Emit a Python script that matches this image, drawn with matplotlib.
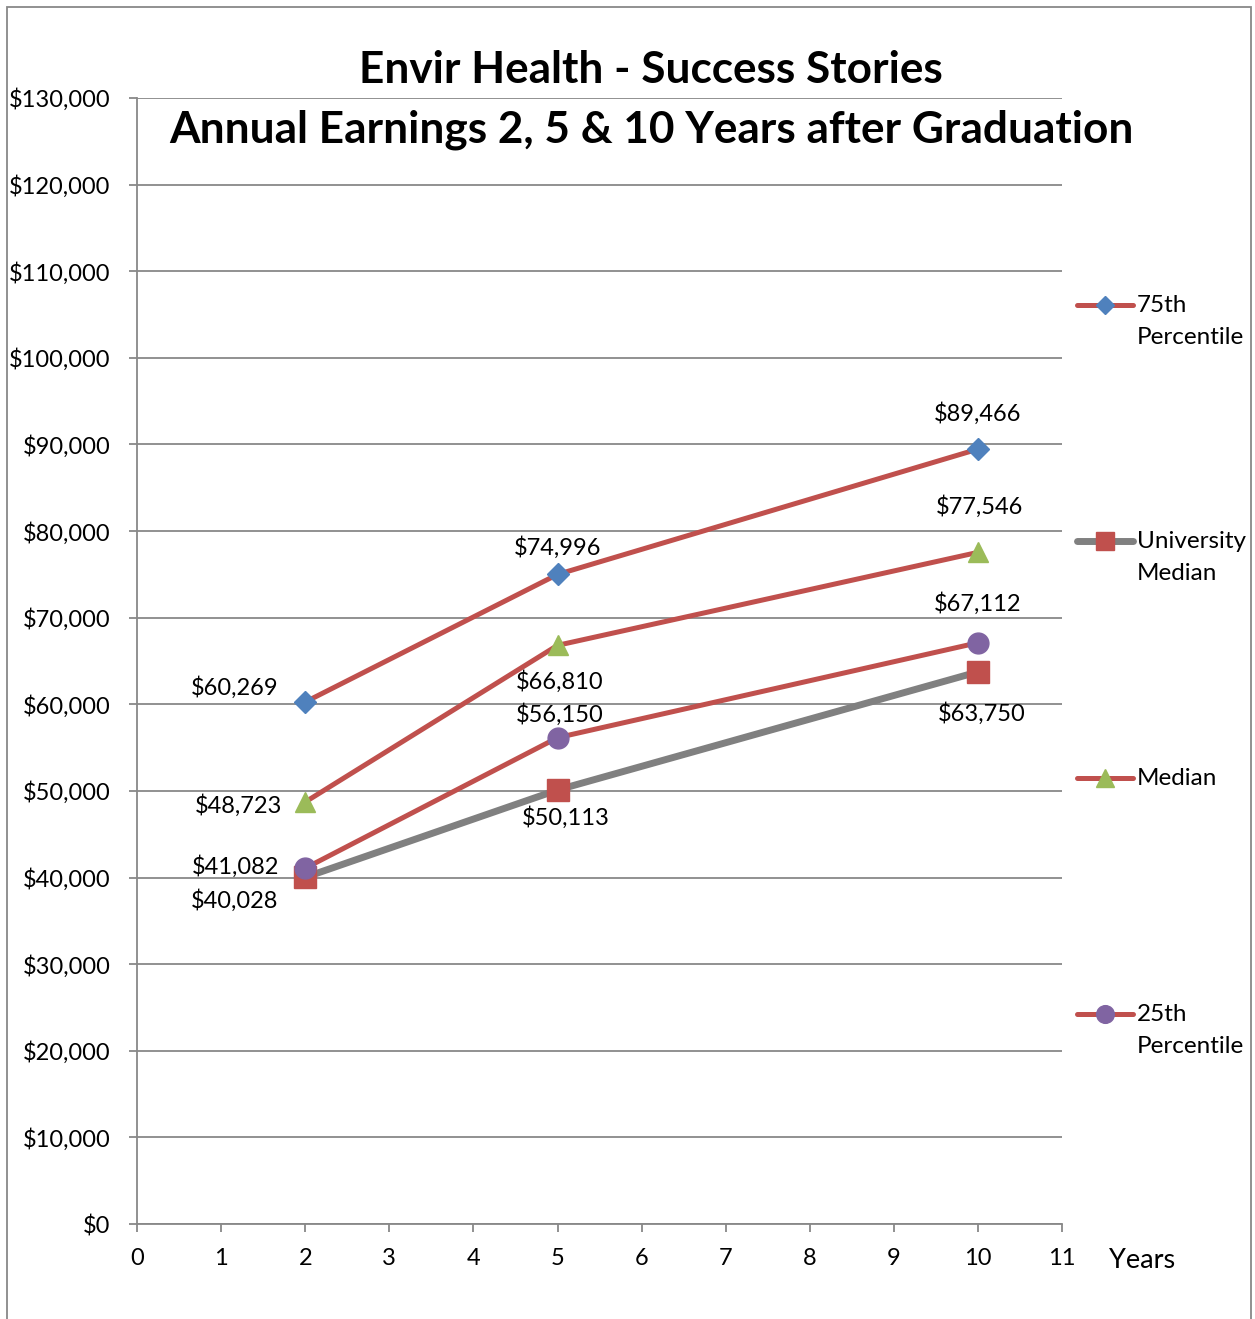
import matplotlib.pyplot as plt
from matplotlib.lines import Line2D
from matplotlib.patches import Rectangle

plt.rcParams['font.family'] = ['Lato', 'DejaVu Sans']

# data
years = [2, 5, 10]
p75 = [60269, 74996, 89466]
uni_median = [40028, 50113, 63750]
median = [48723, 66810, 77546]
p25 = [41082, 56150, 67112]

series_names = ["75th\nPercentile", "University\nMedian", "Median", "25th\nPercentile"]
series_values = [p75, uni_median, median, p25]
line_colors = ["#C0504D", "#808080", "#C0504D", "#C0504D"]
marker_colors = ["#4F81BD", "#C0504D", "#9BBB59", "#8064A2"]
markers = ["D", "s", "^", "o"]
marker_sizes = [11, 16, 15, 15]
line_widths = [3.6, 5.0, 3.6, 3.6]

# label offsets in pixels, one per point
label_offsets = [
    [(-71, 14), (0, 27), (0, 36)],
    [(-71, -23), (8, -28), (4, -42)],
    [(-67, -4), (2, -36), (2, 46)],
    [(-70, 2), (2, 23), (0, 39)],
]

fig = plt.figure(figsize=(12.55, 13.19), dpi=100)
ax = fig.add_axes([0.1092, 0.0720, 0.7371, 0.8537])

# draw university median first so red lines sit on top
order = [1, 0, 2, 3]
for i in order:
    ax.plot(years, series_values[i], color=line_colors[i], lw=line_widths[i],
            marker=markers[i], ms=marker_sizes[i], mfc=marker_colors[i],
            mec=marker_colors[i], zorder=3 + i, clip_on=False)
    for x, y, off in zip(years, series_values[i], label_offsets[i]):
        ax.annotate(f"${y:,}", (x, y), xytext=off, textcoords='offset pixels',
                    ha='center', va='center', fontsize=17, zorder=10)

ax.set_xlim(0, 11)
ax.set_ylim(0, 130000)
ax.set_xticks(range(0, 12))
ax.set_yticks(range(0, 130001, 10000))
ax.set_yticklabels([f"${v:,}" for v in range(0, 130001, 10000)])
ax.tick_params(axis='both', labelsize=17, color='#888888', length=6, width=1.3)
ax.tick_params(axis='y', pad=13)
ax.tick_params(axis='x', pad=11)
ax.grid(axis='y', color='#888888', lw=1.3)
ax.set_axisbelow(True)
for s in ['top', 'right']:
    ax.spines[s].set_visible(False)
for s in ['left', 'bottom']:
    ax.spines[s].set_color('#888888')
    ax.spines[s].set_linewidth(1.3)

# titles
fig.text(0.519, 1 - 70 / 1319, "Envir Health - Success Stories", ha='center', va='center',
         fontsize=31.8, fontweight='bold')
fig.text(0.519, 1 - 130 / 1319, "Annual Earnings 2, 5 & 10 Years after Graduation",
         ha='center', va='center', fontsize=31.8, fontweight='bold')
fig.text(1142 / 1255, 1 - 1261 / 1319, "Years", ha='center', va='center', fontsize=19.5)

# manual legend on the right
legend_y = [0.8162, 0.6066, 0.3961, 0.1865]
for i, yy in enumerate(legend_y):
    ax.add_line(Line2D([1.0162, 1.0768], [yy, yy], transform=ax.transAxes,
                       color=line_colors[i], lw=line_widths[i], clip_on=False,
                       solid_capstyle='round'))
    ax.add_line(Line2D([1.0465], [yy], transform=ax.transAxes, marker=markers[i],
                       ms=marker_sizes[i] * 0.85, mfc=marker_colors[i],
                       mec=marker_colors[i], ls='none', clip_on=False))
    nlines = series_names[i].count("\n")
    ax.annotate(series_names[i], (1.081, yy), xycoords='axes fraction',
                xytext=(0, -16.5 * nlines), textcoords='offset pixels',
                ha='left', va='center', fontsize=17.5, linespacing=1.62)

# outer frame
fig.add_artist(Rectangle((7 / 1255, -0.05), (1251 - 7) / 1255, 1.05 - 7 / 1319,
                         transform=fig.transFigure, fill=False,
                         edgecolor='#888888', lw=1.3))

fig.savefig("out.png", dpi=100)
